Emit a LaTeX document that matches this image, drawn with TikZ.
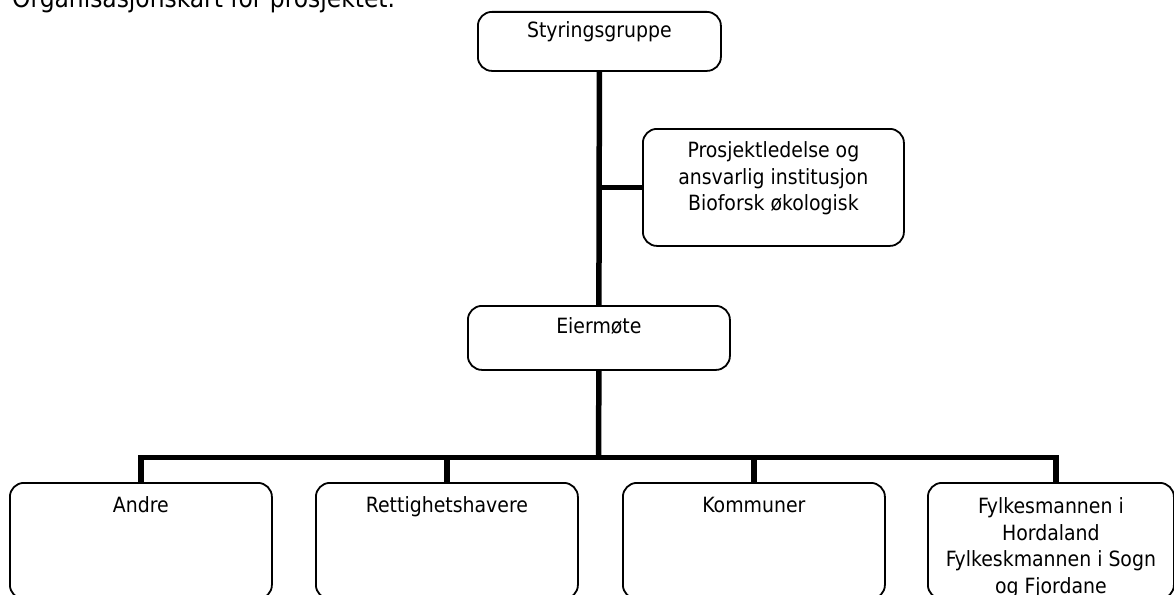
\documentclass[tikz,border=0pt]{standalone}
\usepackage{fontspec}
\setmainfont{DejaVu Sans Condensed}
\usetikzlibrary{calc}

% text at the top of a box of width #2 and height #3
\newcommand{\boxtext}[4][29]{\parbox[c][#3pt][t]{#2pt}{\centering\rule{0pt}{#1pt}#4}}

\begin{document}
\begin{tikzpicture}[x=1pt, y=-1pt, font=\fontsize{21}{26.5}\selectfont]
     \tikzset{
       orgbox/.style={draw, line width=1.8pt, rounded corners=14pt, inner sep=0pt, anchor=north west},
       link/.style={line width=5.5pt, line join=miter}
     }
     \useasboundingbox (0,0) rectangle (1174,594);

     \node[anchor=base west, inner sep=0pt, font=\fontsize{26}{30}\selectfont] (title) at (12,7.5) {Organisasjonskart for prosjektet.};

     \node[orgbox] (sty) at (477,11) {\boxtext[26]{243}{59}{Styringsgruppe}};
     \node[orgbox] (pro) at (642,128) {\boxtext{261}{117}{Prosjektledelse og\\ansvarlig institusjon\\Bioforsk økologisk}};
     \node[orgbox] (eie) at (467,305) {\boxtext[28]{262}{64}{Eiermøte}};

     \node[orgbox] (and) at (9,482) {\boxtext[30]{262}{116}{Andre}};
     \node[orgbox] (ret) at (315,482) {\boxtext[30]{262}{116}{Rettighetshavere}};
     \node[orgbox] (kom) at (622,482) {\boxtext[30]{262}{116}{Kommuner}};
     \node[orgbox] (fyl) at (927,482) {\boxtext[31]{246}{116}{Fylkesmannen i\\Hordaland\\Fylkeskmannen i Sogn\\og Fjordane}};

     \coordinate (bus) at (598.5,457.5);

     \draw [link] (sty.south) -- (eie.north);
     \draw [link] (sty.south |- pro.west) -- (pro.west);
     \draw [link] (eie.south) -- (bus);
     \draw [link] (and.north) -- (and.north |- bus) -- ($(fyl.north |- bus)+(5,0)$) -- ($(fyl.north)+(5,0)$);
     \draw [link] (ret.north) -- (ret.north |- bus);
     \draw [link] (kom.north) -- (kom.north |- bus);

  \end{tikzpicture}
\end{document}
